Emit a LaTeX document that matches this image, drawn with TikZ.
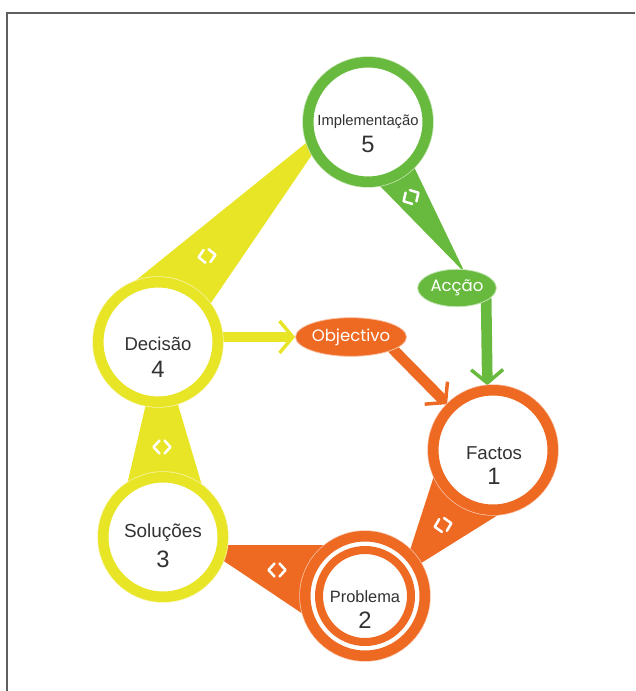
\documentclass[tikz,border=0pt]{standalone}
\usepackage{fontspec}
\setmainfont{Liberation Sans}
\newfontfamily\geofont{Poppins}
\usetikzlibrary{calc,shapes.geometric,arrows.meta}
\pgfdeclarelayer{bg}
\pgfsetlayers{bg,main}
\definecolor{gr}{RGB}{104,186,62}
\definecolor{orn}{RGB}{238,106,34}
\definecolor{yel}{RGB}{232,228,38}
\definecolor{txt}{RGB}{50,50,50}
\definecolor{framec}{RGB}{95,95,95}
\tikzset{
  ring/.style={circle,minimum size=89.6pt,inner sep=0pt,line width=7.9pt,fill=white,draw=#1,
    preaction={draw=#1!40!white,line width=9pt}},
  ttl/.style={text=txt,anchor=base,inner sep=0pt},
  num/.style={text=txt,anchor=base,inner sep=0pt,font=\fontsize{17.8}{20}\selectfont},
  tag/.style={ellipse,fill=#1,draw=#1!40!white,line width=0.6pt,inner sep=0pt,text=white,
    font=\geofont\fontsize{12.4}{14}\selectfont},
  shaft/.style={draw=#1,line width=8pt,-{Straight Barb[length=10pt,width=24pt,line width=2.6pt]}},
  brk/.pic={\draw[white,line width=1.9pt,line cap=round,line join=round]
     (-2.5,-6.5) -- (-8.5,0) -- (-2.5,6.5) (2.5,-6.5) -- (8.5,0) -- (2.5,6.5);}
}
\begin{document}
\begin{tikzpicture}[x=0.75pt,y=-0.75pt]
\useasboundingbox (0,0) rectangle (635,691);
\draw[framec,line width=1.4pt] (7,691) -- (7,13) -- (635,13);

% centres
\coordinate (p5) at (368,122);
\coordinate (p1) at (493,450);
\coordinate (p2) at (365,596);
\coordinate (p3) at (163,537);
\coordinate (p4) at (158,342);
\coordinate (pa) at (457,288);
\coordinate (po) at (351,337);

% cones
\coordinate (a5) at (465,273); \coordinate (e5a) at (380,186); \coordinate (e5b) at (415,169);
\fill[gr] (p5) -- ($(a5)!(p5)!(e5a)$) -- (a5) -- ($(a5)!(p5)!(e5b)$) -- cycle;
\coordinate (a4) at (337,118); \coordinate (e4a) at (140,277); \coordinate (e4b) at (213,300);
\fill[yel] (p4) -- ($(a4)!(p4)!(e4a)$) -- (a4) -- ($(a4)!(p4)!(e4b)$) -- cycle;
\coordinate (a3) at (160,344); \coordinate (e3a) at (130,472); \coordinate (e3b) at (198,472);
\fill[yel] (p3) -- ($(a3)!(p3)!(e3a)$) -- (a3) -- ($(a3)!(p3)!(e3b)$) -- cycle;
\coordinate (a2) at (200,545); \coordinate (e2a) at (320,545); \coordinate (e2b) at (300,612);
\fill[orn] (p2) -- ($(a2)!(p2)!(e2a)$) -- (a2) -- ($(a2)!(p2)!(e2b)$) -- cycle;
\coordinate (a1) at (402,575); \coordinate (e1a) at (432,482); \coordinate (e1b) at (490,520);
\fill[orn] (p1) -- ($(a1)!(p1)!(e1a)$) -- (a1) -- ($(a1)!(p1)!(e1b)$) -- cycle;

% bracket marks
\pic[rotate=30] at (411,197) {brk};
\pic[rotate=8] at (207,256) {brk};
\pic at (162,447) {brk};
\pic at (277,570) {brk};
\pic[rotate=12] at (443,525) {brk};

% circles
\node[ring=gr] (c5) at (p5) {};
\node[ring=orn] (c1) at (p1) {};
\node[ring=orn] (c2) at (p2) {};
\draw[orn,line width=6pt] (c2.center) circle (46);
\node[ring=yel] (c3) at (p3) {};
\node[ring=yel] (c4) at (p4) {};

% texts
\node[ttl,font=\fontsize{11.1}{13}\selectfont] (t5) at (368,126) {Implementação};
\node[num] (n5) at (368,153) {5};
\node[ttl,font=\fontsize{14}{16}\selectfont] (t1) at (494,459) {Factos};
\node[num] (n1) at (494,484) {1};
\node[ttl,font=\fontsize{12.3}{14}\selectfont] (t2) at (365,602) {Problema};
\node[num] (n2) at (365,628) {2};
\node[ttl,font=\fontsize{14.2}{16}\selectfont] (t3) at (163,537) {Soluções};
\node[num] (n3) at (163,567) {3};
\node[ttl,font=\fontsize{13.9}{16}\selectfont] (t4) at (158,350) {Decisão};
\node[num] (n4) at (158,377) {4};

% tags
\node[tag=gr,minimum width=59pt,minimum height=28pt] (acc) at (pa) {Acção};
\node[tag=orn,minimum width=81pt,minimum height=29pt] (obj) at (po) {Objectivo};

% arrows, on the layer below
\begin{pgfonlayer}{bg}
\draw[shaft=gr] ($(acc.center)+(29,0)$) -- (c1.95);
\draw[shaft=orn] ($(obj.center)+(30,0)$) -- (c1.135);
\draw[shaft=yel] (c4.center |- obj.west) -- (obj.west);
\end{pgfonlayer}
\end{tikzpicture}
\end{document}
